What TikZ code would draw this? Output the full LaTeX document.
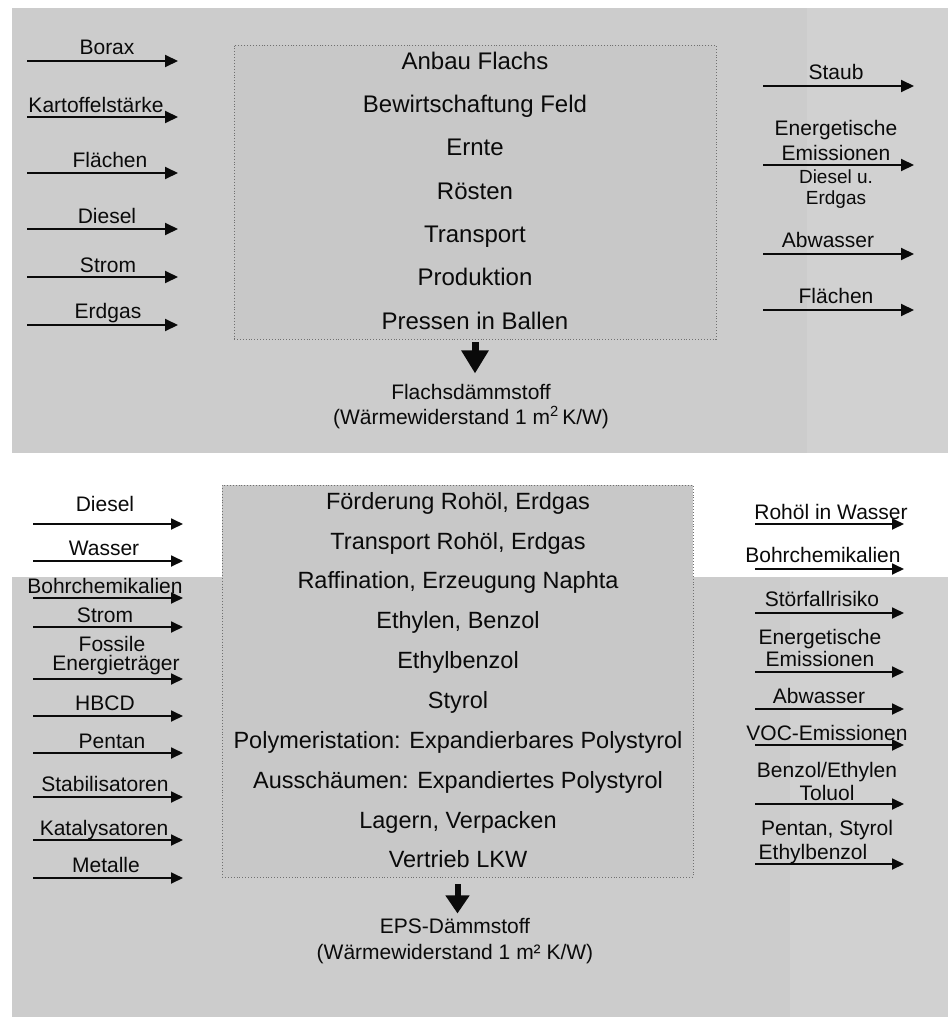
\documentclass[tikz,border=0pt]{standalone}
\usepackage{fontspec}
\setmainfont{Liberation Sans}
\usetikzlibrary{arrows.meta}
\definecolor{bg}{HTML}{CCCCCC}
\definecolor{band}{HTML}{D1D1D1}
\definecolor{boxfill}{HTML}{C8C8C8}
\definecolor{ink}{HTML}{0A0A0A}
\definecolor{boxline}{HTML}{707070}
\tikzset{
  flow/.style={line width=2pt, draw=ink, -{Triangle[length=13pt,width=12pt]}},
  flowb/.style={line width=1.8pt, draw=ink, -{Triangle[length=12pt,width=11pt]}},
  lbl/.style={font=\fontsize{21}{24}\selectfont, inner sep=0pt, anchor=base, text=ink},
  smalllbl/.style={font=\fontsize{19}{22}\selectfont, inner sep=0pt, anchor=base, text=ink},
  proc/.style={font=\fontsize{24}{27}\selectfont, inner sep=0pt, anchor=base, text=ink},
  procb/.style={font=\fontsize{23.5}{26}\selectfont, inner sep=0pt, anchor=base, text=ink},
  procbox/.style={draw=boxline, dotted, line width=0.9pt, fill=boxfill, inner sep=0pt},
  outarrow/.style={line width=7pt, draw=ink, -{Triangle[length=23pt,width=26pt]}},
  outarrowb/.style={line width=6pt, draw=ink, -{Triangle[length=18pt,width=23pt]}}
}
\begin{document}
\begin{tikzpicture}[x=1pt,y=-1pt]
\useasboundingbox (0,0) rectangle (952,1017);
\fill[white] (0,0) rectangle (952,1017);
% panels
\fill[bg] (12,8) rectangle (948,453);
\fill[band] (807,8) rectangle (948,453);
\fill[bg] (12,577) rectangle (948,1017);
\fill[band] (790,577) rectangle (948,1017);

% ---------- top panel ----------
\node[procbox, minimum width=482pt, minimum height=294pt] (flachs) at (475,192) {};
\foreach \n/\y/\t in {fa/69/Anbau Flachs, fb/112/Bewirtschaftung Feld, fc/155/Ernte,
  fd/199/Rösten, fe/242/Transport, ff/285/Produktion, fg/329/Pressen in Ballen}
  \node[proc] (\n) at (475,\y) {\t};

\draw[outarrow] ([yshift=-3pt]flachs.south) -- ([yshift=-34pt]flachs.south);
\node[lbl] (flprod1) at (471,399) {Flachsdämmstoff};
\node[lbl] (flprod2) at (471,424) {(Wärmewiderstand 1 m\textsuperscript{2}\,K/W)};

% inputs
\foreach \n/\y in {ti1/61, ti2/117, ti3/173, ti4/229, ti5/277, ti6/325}{
  \coordinate (\n s) at (27,\y);
  \coordinate (\n e) at (178,\y);
  \draw[flow] (\n s) -- (\n e);
}
\foreach \n/\x/\y/\t in {til1/107/54/Borax, til2/96/112/Kartoffelstärke, til3/110/167/Flächen,
  til4/107/223/Diesel, til5/108/272/Strom, til6/108/318/Erdgas}
  \node[lbl] (\n) at (\x,\y) {\t};

% outputs
\foreach \n/\y in {to1/86, to2/165, to3/254, to4/310}{
  \coordinate (\n s) at (763,\y);
  \coordinate (\n e) at (914,\y);
  \draw[flow] (\n s) -- (\n e);
}
\node[lbl] (tol1) at (836,79) {Staub};
\node[lbl] (tol2a) at (836,135) {Energetische};
\node[lbl] (tol2b) at (836,160) {Emissionen};
\node[smalllbl] (tol2c) at (836,183) {Diesel u.};
\node[smalllbl] (tol2d) at (836,204) {Erdgas};
\node[lbl] (tol3) at (828,247) {Abwasser};
\node[lbl] (tol4) at (836,303) {Flächen};

% ---------- bottom panel ----------
\node[procbox, minimum width=471pt, minimum height=392pt] (eps) at (457.5,681) {};
\foreach \n/\y/\t in {ea/509/{Förderung Rohöl, Erdgas}, eb/549/{Transport Rohöl, Erdgas},
  ec/588/{Raffination, Erzeugung Naphta}, ed/628/{Ethylen, Benzol}, ee/668/Ethylbenzol,
  ef/708/Styrol, eg/748/{Polymeristation: Expandierbares Polystyrol},
  eh/788/{Ausschäumen: Expandiertes Polystyrol}, ei/828/{Lagern, Verpacken}, ej/867/Vertrieb LKW}
  \node[procb] (\n) at (458,\y) {\t};

\draw[outarrowb] ([yshift=-7pt]eps.south) -- ([yshift=-36pt]eps.south);
\node[lbl] (epsprod1) at (455,933) {EPS-Dämmstoff};
\node[lbl] (epsprod2) at (455,959) {(Wärmewiderstand 1 m² K/W)};

% inputs
\foreach \n/\y in {bi1/524, bi2/561, bi3/598, bi4/627, bi5/679, bi6/716, bi7/753, bi8/797, bi9/840, bi10/878}{
  \coordinate (\n s) at (33,\y);
  \coordinate (\n e) at (183,\y);
  \draw[flowb] (\n s) -- (\n e);
}
\foreach \n/\x/\y/\t in {bil1/105/511/Diesel, bil2/104/555/Wasser, bil3/105/593/Bohrchemikalien,
  bil4/105/622/Strom, bil5a/112/651/Fossile, bil5b/116/670/Energieträger, bil6/105/710/HBCD,
  bil7/112/748/Pentan, bil8/105/791/Stabilisatoren, bil9/104/835/Katalysatoren, bil10/106/872/Metalle}
  \node[lbl] (\n) at (\x,\y) {\t};

% outputs
\foreach \n/\y in {bo1/524, bo2/569, bo3/613, bo4/672, bo5/709, bo6/745, bo7/804, bo8/864}{
  \coordinate (\n s) at (755,\y);
  \coordinate (\n e) at (904,\y);
  \draw[flowb] (\n s) -- (\n e);
}
\foreach \n/\x/\y/\t in {bol1/831/519/Rohöl in Wasser, bol2/823/562/Bohrchemikalien,
  bol3/822/606/Störfallrisiko, bol4a/820/644/Energetische, bol4b/820/666/Emissionen,
  bol5/819/703/Abwasser, bol6/827/740/VOC-Emissionen, bol7a/827/777/{Benzol/Ethylen},
  bol7b/827/800/Toluol, bol8a/827/835/{Pentan, Styrol}, bol8b/813/859/Ethylbenzol}
  \node[lbl] (\n) at (\x,\y) {\t};
\end{tikzpicture}
\end{document}
